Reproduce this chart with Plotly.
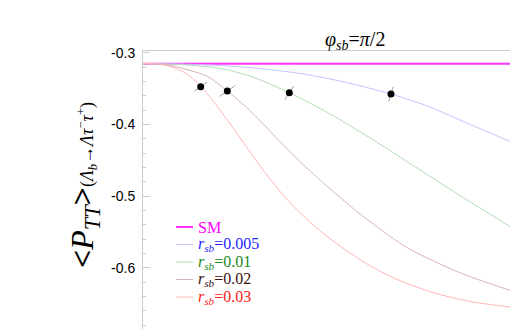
import plotly.graph_objects as go

# ---- data ----
x_sm = [0.0, 1.0]
y_sm = [-0.3153, -0.3153]

x_005 = [0.0, 0.1008, 0.2098, 0.3188, 0.4278, 0.5368, 0.6757, 0.7820, 0.8638, 1.0]
y_005 = [-0.3153, -0.3158, -0.3179, -0.3220, -0.3290, -0.3395, -0.3576, -0.3757, -0.3939, -0.4238]

x_01 = [0.0, 0.1008, 0.1737, 0.2098, 0.2916, 0.3986, 0.5095, 0.6185, 0.7275, 0.8638, 1.0]
y_01 = [-0.3153, -0.3165, -0.3195, -0.3218, -0.3325, -0.3558, -0.3854, -0.4188, -0.4545, -0.4992, -0.5424]

x_02 = [0.0, 0.0463, 0.0817, 0.1281, 0.1737, 0.2297, 0.2826, 0.3278, 0.3733, 0.4232,
        0.4913, 0.5823, 0.6730, 0.7275, 0.8638, 1.0]
y_02 = [-0.3153, -0.3165, -0.3185, -0.3248, -0.3325, -0.3534, -0.3764, -0.3996, -0.4240, -0.4495,
        -0.4816, -0.5212, -0.5561, -0.5742, -0.6070, -0.6314]

x_03 = [0.0, 0.0463, 0.0790, 0.1090, 0.1362, 0.1572, 0.1916, 0.2371, 0.2826, 0.3278,
        0.3733, 0.4188, 0.4913, 0.5823, 0.6368, 0.7003, 0.7902, 0.8910, 1.0]
y_03 = [-0.3153, -0.3158, -0.3199, -0.3265, -0.3363, -0.3474, -0.3676, -0.3990, -0.4321, -0.4640,
        -0.4932, -0.5188, -0.5522, -0.5856, -0.6024, -0.6180, -0.6346, -0.6470, -0.6548]

dot_x = [0.1572, 0.2297, 0.3986, 0.6757]
dot_y = [-0.3474, -0.3534, -0.3558, -0.3576]
seg_dx = [0.0175, 0.0215, 0.0120, 0.0060]
seg_dy = [0.0062, 0.0075, 0.0095, 0.0100]

ytick_vals = [-0.3, -0.4, -0.5, -0.6]
ytick_text = ["-0.3", "-0.4", "-0.5", "-0.6"]

legend_names = ["SM",
                "<i>r</i><sub><i>sb</i></sub>=0.005",
                "<i>r</i><sub><i>sb</i></sub>=0.01",
                "<i>r</i><sub><i>sb</i></sub>=0.02",
                "<i>r</i><sub><i>sb</i></sub>=0.03"]
line_colors = ["#ff33ff", "#c4c4ff", "#b4dcb4", "#d8b4b4", "#ffb4b4"]
line_widths = [2, 1, 1, 1, 1]
text_colors = ["#ff00ff", "#1f1fff", "#1a8a1a", "#3c0f0f", "#ff2020"]
xs_all = [x_sm, x_005, x_01, x_02, x_03]
ys_all = [y_sm, y_005, y_01, y_02, y_03]

fig = go.Figure()
for name, xs, ys, lc, lw in zip(legend_names, xs_all, ys_all, line_colors, line_widths):
    fig.add_trace(go.Scatter(
        x=xs, y=ys, mode="lines", name=name, showlegend=False,
        line=dict(color=lc, width=lw, shape="spline", smoothing=0.8),
    ))

# short gray marks through the points
sx, sy = [], []
for x0, y0, dx, dy in zip(dot_x, dot_y, seg_dx, seg_dy):
    sx += [x0 - dx, x0 + dx, None]
    sy += [y0 - dy, y0 + dy, None]
fig.add_trace(go.Scatter(x=sx, y=sy, mode="lines",
                         line=dict(color="#a0a0a0", width=1), showlegend=False))
fig.add_trace(go.Scatter(x=dot_x, y=dot_y, mode="markers",
                         marker=dict(color="black", size=7), showlegend=False))

H_PLOT = 278.0
W_PLOT = 367.0
def px_x(p):
    return (p - 143) / W_PLOT
def px_y(p):
    return (329 - p) / H_PLOT

# legend drawn by hand (line sample + coloured label)
for i, (name, lc, lw, tc) in enumerate(zip(legend_names, line_colors, line_widths, text_colors)):
    yc = 227 + i * 17.5
    fig.add_shape(type="line", xref="paper", yref="paper",
                  x0=px_x(176), x1=px_x(193), y0=px_y(yc), y1=px_y(yc),
                  line=dict(color=lc, width=lw))
    fig.add_annotation(x=px_x(196), y=px_y(yc), xref="paper", yref="paper",
                       showarrow=False, xanchor="left", yanchor="middle",
                       text=name, font=dict(family="Liberation Serif", size=16, color=tc))

fig.update_layout(
    width=510, height=329,
    margin=dict(l=143, r=0, t=51, b=0, autoexpand=False),
    paper_bgcolor="white", plot_bgcolor="white",
    font=dict(family="Liberation Serif", size=15, color="black"),
    showlegend=False,
    xaxis=dict(range=[0, 1.0], side="top", showline=True, linecolor="#cccccc",
               linewidth=1, showgrid=False, zeroline=False, showticklabels=False,
               ticks="", automargin=False),
    yaxis=dict(range=[-0.6854, -0.2976], showline=True, linecolor="#cccccc",
               linewidth=1, showgrid=False, zeroline=False, automargin=False,
               tickvals=ytick_vals, ticktext=ytick_text, ticks="inside",
               ticklen=7, tickcolor="#cccccc", ticklabelstandoff=4,
               tickfont=dict(family="Liberation Sans", size=14, color="black"),
               minor=dict(dtick=0.02, ticks="inside", ticklen=3, tickcolor="#cccccc",
                          showgrid=False)),
)

fig.add_annotation(
    x=px_x(355), y=px_y(40), xref="paper", yref="paper", showarrow=False,
    text="<i>φ</i><sub><i>sb</i></sub>=<i>π</i>/2",
    font=dict(family="Liberation Serif", size=20, color="black"),
    xanchor="center", yanchor="middle",
)

fig.add_annotation(
    x=px_x(84), y=px_y(185), xref="paper", yref="paper", showarrow=False,
    textangle=-90,
    text=("<span style='font-size:32px'><b>&lt;</b><i>P</i><sub><i>TT</i></sub><b>&gt;</b></span>"
          "<span style='font-size:18px'>(<i>Λ</i><sub><i>b</i></sub>→<i>Λτ</i><sup>−</sup><i>τ</i><sup>+</sup>)</span>"),
    font=dict(family="Liberation Serif", size=18, color="black"),
    xanchor="center", yanchor="middle",
)

fig.write_html("out.html", config={"displayModeBar": False},
               post_script="document.body.style.margin='0px';")
